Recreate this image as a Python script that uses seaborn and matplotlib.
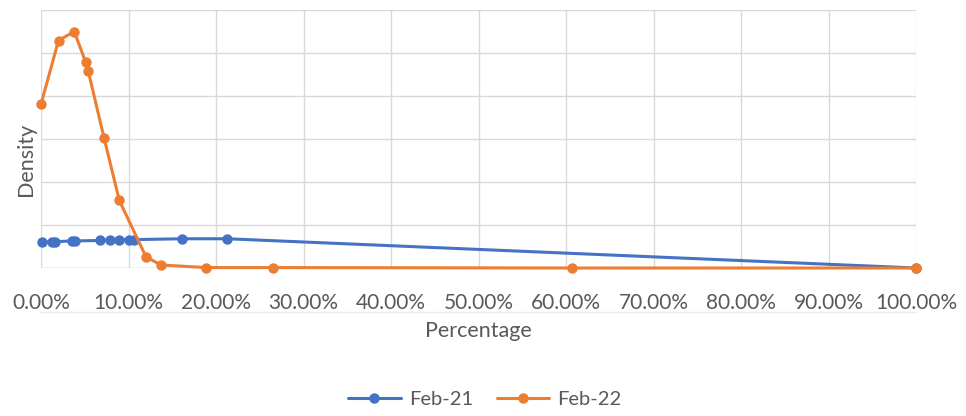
import pandas as pd
import matplotlib.pyplot as plt
import seaborn as sns

# values (x in %, y in gridline units)
feb21_pct = [0.1, 1.2, 1.6, 3.5, 3.9, 6.7, 7.9, 8.9, 10.0, 10.6, 16.1, 21.3, 100.0]
feb21_density = [0.61, 0.61, 0.61, 0.63, 0.63, 0.64, 0.65, 0.66, 0.66, 0.66, 0.68, 0.68, 0.0]

feb22_pct = [0.0, 2.0, 3.8, 5.1, 5.4, 7.2, 8.95, 12.0, 13.7, 18.9, 26.5, 60.7, 100.0]
feb22_density = [3.81, 5.29, 5.50, 4.79, 4.58, 3.03, 1.57, 0.26, 0.07, 0.01, 0.01, 0.0, 0.0]

series_names = ['Feb-21', 'Feb-22']
x_ticks = list(range(0, 101, 10))
x_ticklabels = [f'{t:.2f}%' for t in x_ticks]

df = pd.concat([
    pd.DataFrame({'pct': feb21_pct, 'density': feb21_density, 'series': series_names[0]}),
    pd.DataFrame({'pct': feb22_pct, 'density': feb22_density, 'series': series_names[1]}),
], ignore_index=True)

sns.set_theme(style='white')
plt.rcParams['font.family'] = ['Lato', 'DejaVu Sans']
text_col = '#595959'
grid_col = '#D9D9D9'
colors = ['#4472C4', '#ED7D31']

fig = plt.figure(figsize=(9.66, 4.16), dpi=100)
ax = fig.add_axes([41 / 966, 1 - 268 / 416, 875 / 966, 258 / 416])

sns.lineplot(data=df, x='pct', y='density', hue='series', hue_order=series_names,
             palette=colors, marker='o', markersize=7.5,
             markeredgewidth=0, linewidth=2.2, estimator=None, sort=False,
             ax=ax, legend=False, zorder=3)
for ln in ax.lines:
    ln.set_clip_on(False)

ax.set_xlim(0, 100)
ax.set_ylim(0, 6)
ax.set_xticks(x_ticks)
ax.set_xticklabels(x_ticklabels)
ax.set_yticks(range(0, 7))
ax.set_yticklabels([])
ax.grid(True, color=grid_col, linewidth=1)
for s in ax.spines.values():
    s.set_visible(False)
ax.axhline(0, color=grid_col, linewidth=1, zorder=1)

# long grey ticks running through the labels, like the source
ax.tick_params(axis='x', direction='out', length=32, width=1, color=grid_col,
               pad=-14, labelsize=15, labelcolor=text_col)
ax.tick_params(axis='y', length=0)
ax.plot([0, 1], [-0.17, -0.17], transform=ax.transAxes, color='#EBEBEB',
        linewidth=1, clip_on=False)

ax.set_xlabel('Percentage', fontsize=15.5, color=text_col)
ax.set_ylabel('Density', fontsize=15.5, color=text_col)
ax.xaxis.set_label_coords(0.5, -0.205)
ax.yaxis.set_label_coords(-0.006, 0.42)

handles = [plt.Line2D([], [], color=c, marker='o', markersize=7.5, markeredgewidth=0,
                      linewidth=2.2) for c in colors]
leg = fig.legend(handles, series_names, loc='center', bbox_to_anchor=(0.502, 0.04),
                 ncol=2, frameon=False, fontsize=14.5, handlelength=2.6,
                 columnspacing=1.2, handletextpad=0.4)
for t in leg.get_texts():
    t.set_color(text_col)

fig.savefig('out.png', dpi=100)
